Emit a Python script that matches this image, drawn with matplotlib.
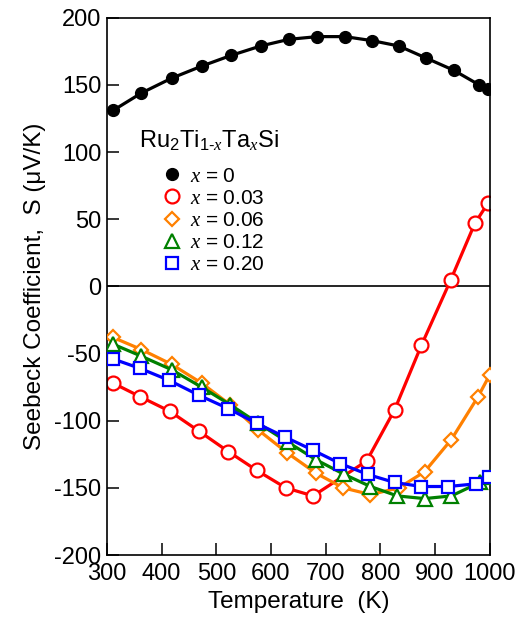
import numpy as np
import matplotlib
matplotlib.use("Agg")
import matplotlib.pyplot as plt

plt.rcParams['font.family'] = ['Liberation Sans', 'DejaVu Sans']
plt.rcParams['mathtext.fontset'] = 'custom'
plt.rcParams['mathtext.rm'] = 'Liberation Sans'
plt.rcParams['mathtext.it'] = 'Liberation Serif:italic'
plt.rcParams['mathtext.bf'] = 'Liberation Sans:bold'
plt.rcParams['axes.unicode_minus'] = False

# ---- data ----
T_x000 = [311, 363, 418, 473, 527, 581, 633, 685, 735, 785, 834, 884, 934, 981, 997]
S_x000 = [131, 144, 155, 164, 172, 179, 184, 186, 186, 183, 179, 170, 161, 150, 147]

T_x003 = [311, 360, 415, 469, 522, 574, 627, 677, 775, 826, 875, 929, 973, 997]
S_x003 = [-72, -82, -93, -108, -123, -137, -150, -156, -130, -92, -44, 5, 47, 62]

T_x006 = [311, 363, 418, 473, 525, 577, 630, 682, 732, 782, 834, 881, 930, 979, 1000]
S_x006 = [-38, -47, -58, -72, -88, -107, -124, -139, -150, -155, -150, -138, -114, -82, -66]

T_x012 = [311, 363, 418, 473, 525, 577, 631, 682, 734, 782, 831, 881, 930, 982, 1000]
S_x012 = [-43, -52, -62, -75, -88, -102, -116, -129, -140, -149, -156, -158, -156, -146, -142]

T_x020 = [311, 360, 414, 468, 522, 574, 625, 677, 727, 777, 826, 875, 924, 975, 999]
S_x020 = [-54, -61, -70, -81, -91, -102, -112, -122, -132, -140, -146, -149, -149, -147, -142]

labels = ['0', '0.03', '0.06', '0.12', '0.20']
xticks = [300, 400, 500, 600, 700, 800, 900, 1000]
yticks = [-200, -150, -100, -50, 0, 50, 100, 150, 200]

fig = plt.figure(figsize=(5.22, 6.25), dpi=100)
ax = fig.add_axes([0.205, 0.112, 0.733, 0.8595])

lw = 2.3
mew = 1.6
series = [
    (T_x003, S_x003, 'red', 'o', 10, labels[1]),
    (T_x006, S_x006, '#ff8000', 'D', 7.2, labels[2]),
    (T_x012, S_x012, '#008000', '^', 10.5, labels[3]),
    (T_x020, S_x020, 'blue', 's', 8.2, labels[4]),
]

handles = {}
h0, = ax.plot(T_x000, S_x000, color='black', marker='o', ms=8.5, mfc='black',
              mec='black', lw=lw, zorder=6)
handles['0'] = h0
for i, (T, S, c, m, ms, lab) in enumerate(series):
    h, = ax.plot(T, S, color=c, marker=m, ms=ms, mfc='white', mec=c, mew=mew,
                 lw=lw, zorder=2 + i)
    handles[lab] = h

ax.axhline(0, color='black', lw=1.2, zorder=1)

ax.set_xlim(300, 1000)
ax.set_ylim(-200, 200)
ax.set_xticks(xticks)
ax.set_yticks(yticks)
ax.tick_params(direction='in', length=8.5, width=1.1, labelsize=17, pad=4,
               top=False, right=False)
ax.tick_params(axis='x', pad=6)
for sp in ax.spines.values():
    sp.set_linewidth(1.2)

ax.set_xlabel('Temperature  (K)', fontsize=17.5, labelpad=4)
ax.set_ylabel('Seebeck Coefficient,  S (\u03bcV/K)', fontsize=17.5, labelpad=6)

ax.text(0.0836, 0.7574, r'Ru$_2$Ti$_{1\text{-}\mathit{x}}$Ta$_{\mathit{x}}$Si',
        transform=ax.transAxes, fontsize=17, ha='left', va='baseline')

leg_labels = [r'$\mathit{x}\,\mathrm{=}\,$' + l for l in labels]
leg = ax.legend([handles[l] for l in labels], leg_labels, loc='center left',
                bbox_to_anchor=(0.142, 0.623), frameon=False, fontsize=15,
                handlelength=1.0, handletextpad=0.38, labelspacing=0.15,
                borderaxespad=0, borderpad=0)
for lh in leg.get_lines():
    lh.set_linestyle('none')

fig.savefig('out.png', dpi=100)
